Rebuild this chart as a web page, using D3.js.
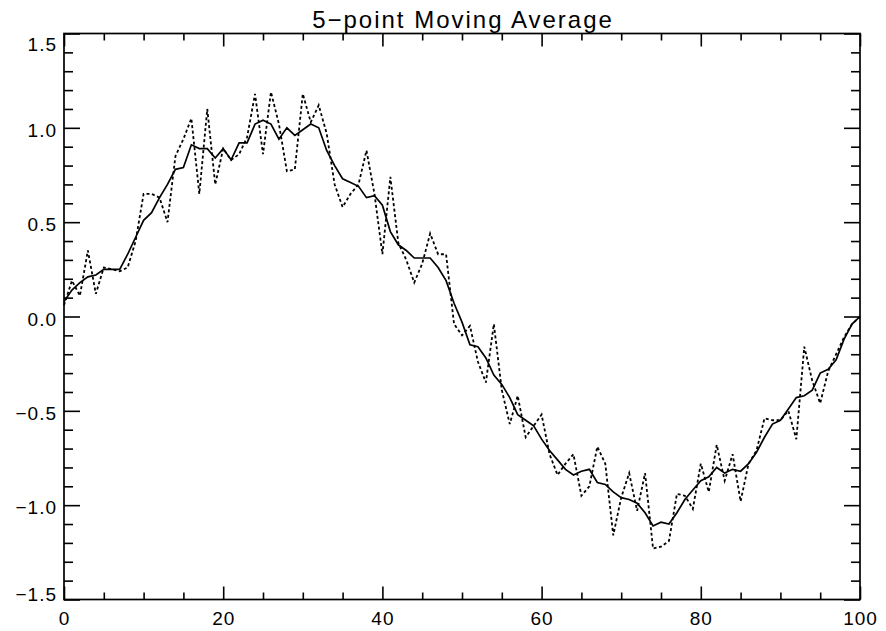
<!DOCTYPE html>
<html>
<head>
<meta charset="utf-8">
<script src="https://cdn.jsdelivr.net/npm/d3@7"></script>
<style>
  html, body { margin: 0; padding: 0; background: #ffffff; }
  svg { display: block; }
  text { font-family: "Liberation Sans", Arial, Helvetica, sans-serif; fill: #000; }
</style>
</head>
<body>
<div id="chart"></div>
<script>
// raw signal (dotted) and its 5-point moving average (solid), x = 0..100
const rawValues = [
  0.06, 0.19, 0.11, 0.35, 0.12, 0.26, 0.25, 0.24, 0.26, 0.40,
  0.65, 0.65, 0.63, 0.50, 0.85, 0.94, 1.05, 0.65, 1.10, 0.70,
  0.89, 0.83, 0.86, 0.95, 1.18, 0.86, 1.19, 1.02, 0.77, 0.78,
  1.18, 1.03, 1.12, 0.97, 0.70, 0.58, 0.65, 0.70, 0.88, 0.65,
  0.33, 0.74, 0.39, 0.30, 0.18, 0.28, 0.44, 0.33, 0.33, -0.04,
  -0.10, -0.05, -0.24, -0.35, -0.04, -0.39, -0.57, -0.42, -0.64, -0.58,
  -0.52, -0.73, -0.84, -0.78, -0.73, -0.95, -0.90, -0.69, -0.78, -1.16,
  -0.96, -0.83, -1.03, -0.83, -1.23, -1.22, -1.19, -0.94, -0.95, -1.02,
  -0.78, -0.93, -0.68, -0.87, -0.73, -0.98, -0.78, -0.71, -0.54, -0.55,
  -0.55, -0.50, -0.65, -0.16, -0.34, -0.46, -0.29, -0.20, -0.11, -0.04,
  0.00
];
const smoothValues = [
  0.08, 0.14, 0.18, 0.21, 0.22, 0.25, 0.25, 0.25, 0.33, 0.42,
  0.51, 0.55, 0.63, 0.70, 0.78, 0.79, 0.91, 0.89, 0.89, 0.84,
  0.89, 0.83, 0.92, 0.92, 1.02, 1.04, 1.02, 0.94, 1.00, 0.96,
  0.99, 1.02, 1.00, 0.88, 0.80, 0.73, 0.71, 0.69, 0.63, 0.64,
  0.59, 0.45, 0.38, 0.35, 0.31, 0.31, 0.31, 0.26, 0.19, 0.07,
  -0.03, -0.15, -0.16, -0.22, -0.31, -0.36, -0.43, -0.52, -0.55, -0.58,
  -0.65, -0.71, -0.76, -0.81, -0.84, -0.82, -0.81, -0.88, -0.89, -0.93,
  -0.96, -0.97, -0.99, -1.04, -1.11, -1.09, -1.10, -1.04, -0.97, -0.92,
  -0.87, -0.85, -0.80, -0.83, -0.81, -0.82, -0.78, -0.72, -0.64, -0.57,
  -0.55, -0.49, -0.43, -0.42, -0.39, -0.30, -0.28, -0.23, -0.12, -0.04,
  0.00
];
const xMajorTicks = [0, 20, 40, 60, 80, 100];
const xMinorTicks = [5, 10, 15, 25, 30, 35, 45, 50, 55, 65, 70, 75, 85, 90, 95];
const yMajorTicks = [-1.5, -1.0, -0.5, 0.0, 0.5, 1.0, 1.5];
const yMinorTicks = [-1.4, -1.3, -1.2, -1.1, -0.9, -0.8, -0.7, -0.6, -0.4, -0.3, -0.2, -0.1,
                     0.1, 0.2, 0.3, 0.4, 0.6, 0.7, 0.8, 0.9, 1.1, 1.2, 1.3, 1.4];
const chartTitle = "5\u2212point Moving Average";

const width = 886;
const height = 631;
const plot = { left: 64, right: 860, top: 33.5, bottom: 599.5 };

const svg = d3.select("#chart").append("svg")
  .attr("width", width)
  .attr("height", height);

svg.append("rect").attr("width", width).attr("height", height).attr("fill", "#fff");

const x = d3.scaleLinear().domain([0, 100]).range([plot.left, plot.right]);
const y = d3.scaleLinear().domain([-1.5, 1.5]).range([plot.bottom, plot.top]);

const fmtY = d => (d < 0 ? "\u2212" : "") + Math.abs(d).toFixed(1);

// bottom axis with labels, ticks pointing inward
const bottomAxis = svg.append("g")
  .attr("transform", `translate(0,${plot.bottom})`)
  .call(d3.axisBottom(x).tickValues(xMajorTicks).tickSize(-13).tickPadding(22).tickFormat(d3.format("d")));
svg.append("g")
  .attr("transform", `translate(0,${plot.bottom})`)
  .call(d3.axisBottom(x).tickValues(xMinorTicks).tickSize(-7).tickFormat(""));

// top axis, no labels
svg.append("g")
  .attr("transform", `translate(0,${plot.top})`)
  .call(d3.axisTop(x).tickValues(xMajorTicks).tickSize(-13).tickFormat(""));
svg.append("g")
  .attr("transform", `translate(0,${plot.top})`)
  .call(d3.axisTop(x).tickValues(xMinorTicks).tickSize(-7).tickFormat(""));

// left axis with labels
const leftAxis = svg.append("g")
  .attr("transform", `translate(${plot.left},0)`)
  .call(d3.axisLeft(y).tickValues(yMajorTicks).tickSize(-16).tickPadding(7).tickFormat(fmtY));
svg.append("g")
  .attr("transform", `translate(${plot.left},0)`)
  .call(d3.axisLeft(y).tickValues(yMinorTicks).tickSize(-9).tickFormat(""));

// right axis, no labels
svg.append("g")
  .attr("transform", `translate(${plot.right},0)`)
  .call(d3.axisRight(y).tickValues(yMajorTicks).tickSize(-16).tickFormat(""));
svg.append("g")
  .attr("transform", `translate(${plot.right},0)`)
  .call(d3.axisRight(y).tickValues(yMinorTicks).tickSize(-9).tickFormat(""));

svg.selectAll(".domain").remove();
svg.selectAll(".tick line").attr("stroke", "#000").attr("stroke-width", 1.6);
svg.selectAll(".tick text").style("font-size", "19px").style("letter-spacing", "1px").attr("fill", "#000");

// end labels on the y axis sit inside the frame, like the original
leftAxis.selectAll(".tick text")
  .attr("dy", d => d === 1.5 ? "0.92em" : d === -1.5 ? "0.03em" : "0.45em");
bottomAxis.selectAll(".tick text").attr("dy", "0.2em");

svg.append("rect")
  .attr("x", plot.left).attr("y", plot.top)
  .attr("width", plot.right - plot.left).attr("height", plot.bottom - plot.top)
  .attr("fill", "none").attr("stroke", "#000").attr("stroke-width", 1.7);

const line = d3.line()
  .x((d, i) => x(i))
  .y(d => y(d));

svg.append("path")
  .datum(rawValues)
  .attr("d", line)
  .attr("fill", "none")
  .attr("stroke", "#000")
  .attr("stroke-width", 1.8)
  .attr("stroke-dasharray", "3,2.5");

svg.append("path")
  .datum(smoothValues)
  .attr("d", line)
  .attr("fill", "none")
  .attr("stroke", "#000")
  .attr("stroke-width", 1.7);

svg.append("text")
  .attr("x", (plot.left + plot.right) / 2 + 1)
  .attr("y", 28)
  .attr("text-anchor", "middle")
  .style("font-size", "24px")
  .style("letter-spacing", "2px")
  .text(chartTitle);
</script>
</body>
</html>
